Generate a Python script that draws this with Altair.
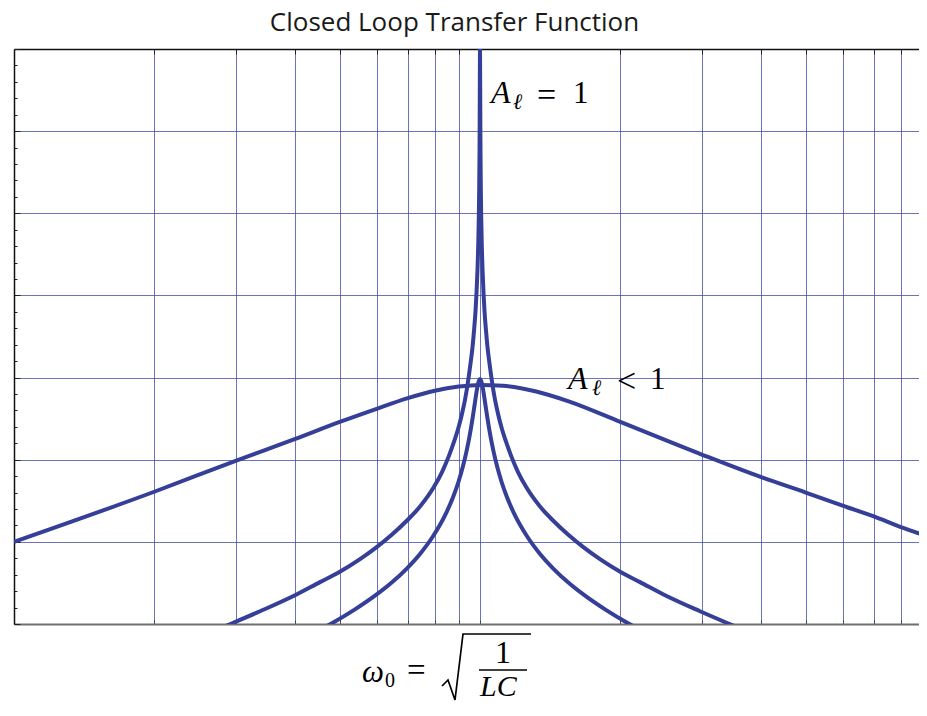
import altair as alt
import pandas as pd

# ---------------- data ----------------
# x: angular frequency (log axis, omega0 = 1); y: level in grid units (bottom = 0)
x_grid = [0.2, 0.3, 0.4, 0.5, 0.6, 0.7, 0.8, 0.9, 1, 2, 3, 4, 5, 6, 7, 8, 9]
y_ticks = [0.0, 0.2, 0.4, 0.6, 0.8, 1.0, 1.2, 1.4, 1.6, 1.8, 2.0, 2.2, 2.4, 2.6, 2.8, 3.0,
           3.2, 3.4, 3.6, 3.8, 4.0, 4.2, 4.4, 4.6, 4.8, 5.0, 5.2, 5.4, 5.6, 5.8, 6.0,
           6.2, 6.4, 6.6, 6.8, 7.0]

# broad curve (A_l < 1, low Q)
broad_w = [0.1, 0.2, 0.3, 0.4, 0.5, 0.6, 0.7, 0.8, 0.9, 1.0, 1.12, 1.32, 1.55,
           2, 3, 4, 5, 6, 7, 8, 9, 9.1]
broad_y = [1.00, 1.61, 1.99, 2.25, 2.46, 2.62, 2.75, 2.84, 2.89, 2.91, 2.90, 2.83, 2.71,
           2.46, 2.06, 1.79, 1.60, 1.44, 1.31, 1.18, 1.08, 1.07]

# A_l = 1 curve (unbounded at omega0)
unity_w = [0.25700, 0.29147, 0.33721, 0.40087, 0.45358, 0.49822, 0.55270, 0.59817,
           0.64738, 0.69719, 0.74344, 0.79668, 0.82881, 0.85798, 0.87951, 0.89699,
           0.91490, 0.92856, 0.94243, 0.95414, 0.96362, 0.97079, 0.97801, 0.98285,
           0.98772, 0.99115, 0.99409, 0.99605, 0.99753, 0.99852, 1.0,
           1.00148, 1.00247, 1.00396, 1.00595, 1.00893, 1.01243, 1.01745, 1.02248,
           1.03009, 1.03775, 1.04806, 1.06109, 1.07693, 1.09301, 1.11484, 1.13700,
           1.16553, 1.20655, 1.25521, 1.34511, 1.43433, 1.54469, 1.67177, 1.80931,
           2.00713, 2.20470, 2.49455, 2.96554, 3.43088, 3.89110]
unity_y = [-0.13, 0.0, 0.155, 0.35, 0.51, 0.63, 0.79, 0.93,
           1.09, 1.26, 1.43, 1.67, 1.85, 2.05, 2.22, 2.37,
           2.56, 2.73, 2.95, 3.17, 3.37, 3.57, 3.81, 4.03,
           4.32, 4.60, 4.95, 5.31, 5.72, 6.16, 7.0,
           6.16, 5.72, 5.31, 4.95, 4.60, 4.32, 4.03, 3.81,
           3.57, 3.37, 3.17, 2.95, 2.73, 2.56, 2.37, 2.22,
           2.05, 1.85, 1.67, 1.43, 1.26, 1.09, 0.93, 0.79,
           0.63, 0.51, 0.35, 0.155, 0.0, -0.13]

# A_l < 1, high Q (cusp at omega0)
sharp_w = [0.43172, 0.48011, 0.53919, 0.59817, 0.64738, 0.69719, 0.74344, 0.79081,
           0.84535, 0.87511, 0.89921, 0.91943, 0.93547, 0.95179, 0.96362, 0.97319,
           0.98285, 0.99017, 1.0,
           1.00993, 1.01745, 1.02755, 1.03775, 1.05065, 1.06898, 1.08763, 1.11208,
           1.14272, 1.18294, 1.26453, 1.34511, 1.43433, 1.54469, 1.67177, 1.85463,
           2.08287, 2.31630]
sharp_y = [-0.134, 0.006, 0.178, 0.354, 0.508, 0.678, 0.853, 1.059,
           1.347, 1.543, 1.732, 1.922, 2.101, 2.317, 2.500, 2.661,
           2.823, 2.923, 2.983,
           2.923, 2.823, 2.661, 2.500, 2.317, 2.101, 1.922, 1.732,
           1.543, 1.347, 1.059, 0.853, 0.678, 0.508, 0.354, 0.178,
           0.006, -0.134]

curves = pd.concat([
    pd.DataFrame({"curve": "broad", "w": broad_w, "y": broad_y}),
    pd.DataFrame({"curve": "unity", "w": unity_w, "y": unity_y}),
    pd.DataFrame({"curve": "sharp", "w": sharp_w, "y": sharp_y}),
], ignore_index=True)

# ---------------- math annotations ----------------
it_text = ["A", "ℓ", "A", "ℓ", "ω", "LC"]
it_w = [1.0558, 1.1771, 1.5446, 1.7394, 0.5581, 1.0]
it_y = [6.343, 6.270, 2.861, 2.788, -0.7061, -0.8766]
it_size = [32, 22, 32, 22, 31, 30]

rm_text = ["=", "1", "<", "1", "0", "=", "1"]
rm_w = [1.3254, 1.5831, 1.968, 2.317, 0.6253, 0.6973, 1.0769]
rm_y = [6.312, 6.343, 2.824, 2.861, -0.7670, -0.6939, -0.4748]
rm_size = [34, 31, 34, 31, 20, 33, 32]

# radical sign with its overline, and the fraction bar
stroke_seg = ["root"] * 5 + ["bar"] * 2
stroke_ord = [0, 1, 2, 3, 4, 0, 1]
stroke_w = [0.8288, 0.8537, 0.8837, 0.9194, 1.2866, 0.9951, 1.2614]
stroke_y = [-0.7548, -0.6818, -0.9253, -0.1217, -0.1217, -0.5600, -0.5600]

# ---------------- chart ----------------
W, H = 905, 575
CURVE = "#363f98"
GRID = "#3a44a6"

xs = alt.Scale(type="log", domain=[0.1, 8.75], nice=False)
ys = alt.Scale(domain=[0, 7], nice=False, zero=False)

major = "abs(datum.value - round(datum.value)) < 0.01"
inner_major = major + " && datum.value > 0.01 && datum.value < 6.99"

lines = alt.Chart(curves).mark_line(
    clip=True, interpolate="monotone", strokeWidth=4, color=CURVE, strokeJoin="round"
).encode(
    x=alt.X("w:Q", scale=xs, axis=alt.Axis(
        orient="top", offset=-H, values=x_grid, grid=True, gridColor=GRID,
        gridOpacity=0.75, gridWidth=1, ticks=True, tickSize=4, tickColor="#444",
        tickWidth=1, labels=False, domain=True, domainColor="#6e6e6e",
        domainWidth=2, title=None)),
    y=alt.Y("y:Q", scale=ys, axis=alt.Axis(
        orient="right", offset=-W, values=y_ticks, grid=True, gridColor=GRID,
        gridOpacity={"condition": {"test": inner_major, "value": 0.75}, "value": 0},
        gridWidth=1, ticks=True,
        tickSize={"condition": {"test": major, "value": 6}, "value": 3},
        tickColor="#222", tickWidth=1, labels=False, domain=True,
        domainColor="#111", domainWidth=1.5, title=None)),
    detail="curve:N",
)

top_frame = alt.Chart(pd.DataFrame({"w": x_grid})).mark_point(opacity=0).encode(
    x=alt.X("w:Q", scale=xs, axis=alt.Axis(
        orient="bottom", offset=-H, values=x_grid, grid=False, ticks=True,
        tickSize=5, tickColor="#222", tickWidth=1, labels=False, domain=True,
        domainColor="#111", domainWidth=1.5, title=None)),
)

italic = alt.Chart(pd.DataFrame({"t": it_text, "w": it_w, "y": it_y, "s": it_size})).mark_text(
    align="left", baseline="alphabetic", font="Liberation Serif", fontStyle="italic",
    color="#000"
).encode(
    x=alt.X("w:Q", scale=xs, axis=None),
    y=alt.Y("y:Q", scale=ys, axis=None),
    text="t:N",
    size=alt.Size("s:Q", scale=None),
)

roman = alt.Chart(pd.DataFrame({"t": rm_text, "w": rm_w, "y": rm_y, "s": rm_size})).mark_text(
    align="left", baseline="alphabetic", font="Liberation Serif", color="#000"
).encode(
    x=alt.X("w:Q", scale=xs, axis=None),
    y=alt.Y("y:Q", scale=ys, axis=None),
    text="t:N",
    size=alt.Size("s:Q", scale=None),
)

strokes = alt.Chart(pd.DataFrame({"seg": stroke_seg, "o": stroke_ord, "w": stroke_w,
                                  "y": stroke_y})).mark_line(
    strokeWidth=1.7, color="#000", strokeJoin="miter"
).encode(
    x=alt.X("w:Q", scale=xs, axis=None),
    y=alt.Y("y:Q", scale=ys, axis=None),
    detail="seg:N",
    order="o:Q",
)

chart = alt.layer(lines, top_frame, italic, roman, strokes).resolve_axis(
    x="independent", y="independent"
).properties(
    width=W, height=H,
    autosize=alt.AutoSizeParams(type="none"),
    padding={"left": 6, "top": 41, "right": 0, "bottom": 80},
    title=alt.Title("Closed Loop Transfer Function", font="Open Sans", fontSize=26,
                    fontWeight="normal", color="#1a1a1a", anchor="middle",
                    offset=13, dx=-12),
).configure_view(stroke=None).configure(background="white")

chart.save("out.html", embed_options={"renderer": "svg", "actions": False})
